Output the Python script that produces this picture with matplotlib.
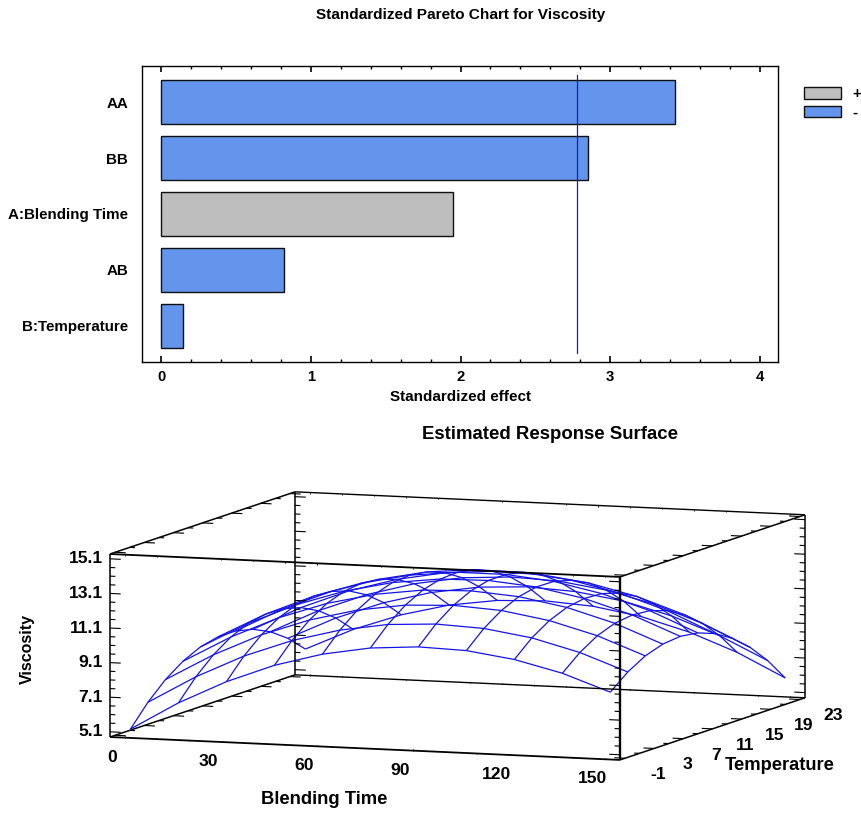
import numpy as np
import matplotlib
matplotlib.use("Agg")
import matplotlib.pyplot as plt
from matplotlib.patches import Patch
from mpl_toolkits.mplot3d import proj3d

W, H = 862, 814

# ---- Pareto chart data ----
effects = ["AA", "BB", "A:Blending Time", "AB", "B:Temperature"]
effect_values = [3.43, 2.85, 1.95, 0.82, 0.15]
effect_signs = ["-", "-", "+", "-", "-"]
critical_value = 2.776
pareto_ticks = [0, 1, 2, 3, 4]

# ---- Surface data ----
blending_time = [0, 15, 30, 45, 60, 75, 90, 105, 120, 135, 150]
temperature = [-1, 1.4, 3.8, 6.2, 8.6, 11, 13.4, 15.8, 18.2, 20.6, 23]
visc_t0 = [5.20, 6.84, 8.19, 9.26, 10.03, 10.51, 10.70, 10.61, 10.22, 9.55, 8.58]
visc_t1 = [6.41, 8.01, 9.33, 10.35, 11.08, 11.53, 11.68, 11.55, 11.13, 10.41, 9.41]
visc_t2 = [7.38, 8.94, 10.22, 11.20, 11.90, 12.31, 12.42, 12.25, 11.79, 11.04, 10.00]
visc_t3 = [8.10, 9.63, 10.87, 11.82, 12.47, 12.84, 12.92, 12.71, 12.21, 11.42, 10.34]
visc_t4 = [8.59, 10.08, 11.28, 12.19, 12.81, 13.14, 13.18, 12.93, 12.39, 11.56, 10.45]
visc_t5 = [8.83, 10.28, 11.44, 12.32, 12.90, 13.19, 13.19, 12.91, 12.33, 11.47, 10.31]
visc_t6 = [8.83, 10.25, 11.37, 12.20, 12.75, 13.00, 12.97, 12.64, 12.03, 11.13, 9.93]
visc_t7 = [8.59, 9.97, 11.06, 11.85, 12.36, 12.57, 12.50, 12.14, 11.49, 10.55, 9.31]
visc_t8 = [8.11, 9.45, 10.50, 11.26, 11.73, 11.90, 11.79, 11.39, 10.70, 9.72, 8.45]
visc_t9 = [7.39, 8.69, 9.70, 10.42, 10.85, 10.99, 10.84, 10.41, 9.68, 8.66, 7.35]
visc_t10 = [6.43, 7.69, 8.66, 9.35, 9.74, 9.84, 9.65, 9.18, 8.41, 7.36, 6.01]
time_ticks = [0, 30, 60, 90, 120, 150]
temp_ticks = [-1, 3, 7, 11, 15, 19, 23]
visc_ticks = [5.1, 7.1, 9.1, 11.1, 13.1, 15.1]

plt.rcParams["font.family"] = ["Liberation Sans", "DejaVu Sans"]
plt.rcParams["font.weight"] = "bold"
BLUE, GRAY = "#6495ED", "#BEBEBE"
LINE = "#1414E6"

fig = plt.figure(figsize=(W / 100, H / 100), dpi=100)


def fx(px):
    return px / W


def fy(py):
    return 1 - py / H


# ---------------- Pareto ----------------
ax = fig.add_axes([fx(142), fy(362), 636 / W, 296 / H])
ypos = np.arange(len(effects))
colors = [BLUE if s == "-" else GRAY for s in effect_signs]
ax.barh(ypos, effect_values, height=0.786, color=colors, edgecolor="#101010", linewidth=1.0, zorder=2)
ax.plot([critical_value] * 2, [-0.48, 4.48], color="#1A1AC8", lw=0.9, zorder=3)
ax.set_xlim(-0.127, 4.12)
ax.set_ylim(4.643, -0.643)
ax.set_yticks(ypos, effects, fontsize=10.9)
ax.tick_params(axis="y", length=0, pad=10)
ax.set_xticks(pareto_ticks)
ax.set_xticks(np.arange(0, 4.01, 0.2), minor=True)
ax.tick_params(axis="x", which="major", direction="in", top=True, length=4.5, width=1.2, labelsize=10.7, pad=6)
ax.tick_params(axis="x", which="minor", direction="in", top=True, length=2.5, width=1)
ax.set_xlabel("Standardized effect", fontsize=11, fontweight="bold", labelpad=4)
for s in ax.spines.values():
    s.set_linewidth(1.0)
handles = [Patch(facecolor=GRAY, edgecolor="#101010", label="+"),
           Patch(facecolor=BLUE, edgecolor="#101010", label="-")]
fig.legend(handles=handles, loc="upper left", bbox_to_anchor=(fx(790), fy(73.5)), frameon=False, fontsize=11,
           handlelength=2.45, handleheight=0.77, labelspacing=0.3, handletextpad=0.75)
fig.text(fx(461), fy(15.5), "Standardized Pareto Chart for Viscosity", ha="center", va="center", fontsize=11.1)
fig.text(fx(550), fy(434.5), "Estimated Response Surface", ha="center", va="center", fontsize=13.4)

# ---------------- Surface ----------------
ax3 = fig.add_axes([0.1, 0.05, 0.6, 0.6], projection="3d", computed_zorder=False,
                   proj_type="ortho", facecolor="none")
ax3.view_init(elev=7.06, azim=-69.9)
ax3.set_box_aspect((543, 538.5, 184.4))
x0, x1 = -4.8, 154.6
y0, y1 = -1.7, 23.7
z0, z1 = 4.8, 15.38
ax3.set_xlim(x0, x1, view_margin=0)
ax3.set_ylim(y0, y1, view_margin=0)
ax3.set_zlim(z0, z1, view_margin=0)
ax3.set_axis_off()


def project(x, y, z):
    ax3.apply_aspect()
    M = ax3.get_proj()
    u, v, _ = proj3d.proj_transform(x, y, z, M)
    p = ax3.transData.transform((u, v))
    return p[0], H - p[1]


# fit the axes so the box falls where it does in the reference
target_a, target_b = (110.0, 737.0), (805.0, 515.0)
for _ in range(4):
    a = project(x0, y0, z0)
    b = project(x1, y1, z1)
    scale = (target_b[0] - target_a[0]) / (b[0] - a[0])
    pos = ax3.get_position()
    size = pos.width * W * scale
    ax3.set_position([pos.x0, pos.y0, size / W, size / H])
    a = project(x0, y0, z0)
    pos = ax3.get_position()
    ax3.set_position([pos.x0 + (target_a[0] - a[0]) / W, pos.y0 - (target_a[1] - a[1]) / H, pos.width, pos.height])

X, Y = np.meshgrid(blending_time, temperature)
Z = np.array([visc_t0, visc_t1, visc_t2, visc_t3, visc_t4, visc_t5, visc_t6, visc_t7, visc_t8, visc_t9, visc_t10])
ax3.plot_wireframe(X, Y, Z, color=LINE, linewidth=0.9, zorder=2)


def seg(xs, ys, zs, lw=1.0):
    ax3.plot(xs, ys, zs, color="black", lw=lw, zorder=3, solid_capstyle="butt")


# box
for y in (y0, y1):
    for z in (z0, z1):
        seg([x0, x1], [y, y], [z, z], 1.3 if y == y0 else 1.0)
for x in (x0, x1):
    for z in (z0, z1):
        seg([x, x], [y0, y1], [z, z], 1.1)
    for y in (y0, y1):
        seg([x, x], [y, y], [z0, z1], 1.7 if (x == x1 and y == y0) else 1.1)

# ticks
xt_len = (x1 - x0) * 0.021
for v in np.arange(0, 151, 10):
    ln = 0.07 if v % 30 == 0 else 0.04
    for y in (y0, y1):
        seg([v, v], [y, y], [z0, z0 + ln], 0.7)
        seg([v, v], [y, y], [z1, z1 - ln], 0.7)
for v in np.arange(-1, 24, 2):
    ln = xt_len * (1.0 if (v + 1) % 4 == 0 else 0.5)
    for z in (z0, z1):
        seg([x0, x0 + ln], [v, v], [z, z], 0.8)
        seg([x1, x1 - ln], [v, v], [z, z], 0.8)
for v in np.arange(5.1, 15.2, 0.5):
    ln = xt_len * (1.0 if abs((v - 5.1) % 2) < 1e-6 or abs((v - 5.1) % 2 - 2) < 1e-6 else 0.5)
    for y in (y0, y1):
        seg([x0, x0 + ln], [y, y], [v, v], 0.8)
        seg([x1, x1 - ln], [y, y], [v, v], 0.8)

# tick labels
for v in time_ticks:
    px, py = project(v, y0, z0)
    fig.text(fx(px - 13), fy(py + 19.5), str(v), ha="center", va="center", fontsize=12.6)
for v in temp_ticks:
    px, py = project(x1, v, z0)
    fig.text(fx(px + 33), fy(py + 16.5), str(v), ha="center", va="center", fontsize=12.6)
for v in visc_ticks:
    px, py = project(x0, y0, v)
    fig.text(fx(px - 7), fy(py), f"{v:.1f}", ha="right", va="center", fontsize=12.6)

fig.text(fx(27), fy(649), "Viscosity", rotation=90, ha="center", va="center", fontsize=11.5)
fig.text(fx(324), fy(800), "Blending Time", ha="center", va="center", fontsize=13.2)
fig.text(fx(780), fy(765), "Temperature", ha="center", va="center", fontsize=13.2)

fig.savefig("out.png", dpi=100)
